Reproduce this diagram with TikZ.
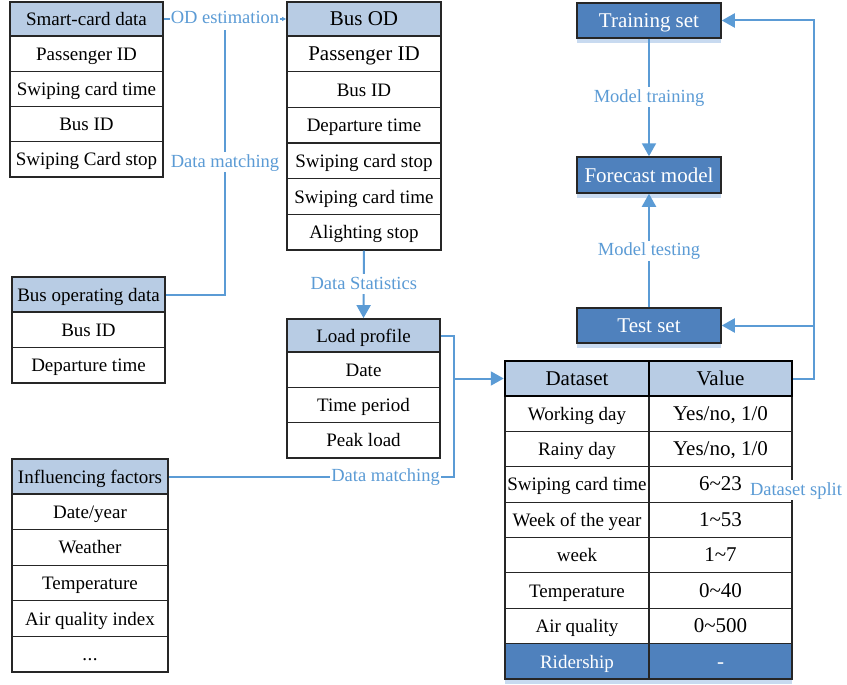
\documentclass[tikz,border=0pt]{standalone}
\usepackage{fontspec}
\setmainfont{Liberation Serif}
\usetikzlibrary{arrows.meta,shadows}
\definecolor{headblue}{RGB}{184,204,228}
\definecolor{darkblue}{RGB}{79,129,189}
\definecolor{linkblue}{RGB}{91,155,213}
\definecolor{shadeblue}{RGB}{200,218,240}
\tikzset{
  txt/.style={font=\fontsize{19}{22}\selectfont},
  bigtxt/.style={font=\fontsize{21}{24}\selectfont},
  cell/.style={draw=black!85, line width=1.2pt, fill=white, inner sep=0pt, text height=17pt, text depth=4pt, txt},
  head/.style={cell, fill=headblue, line width=1.8pt},
  darkbox/.style={draw=black!85, line width=1.5pt, fill=darkblue, text=white, inner sep=0pt, bigtxt,
    text height=18pt, text depth=4pt,
    minimum width=144pt, minimum height=35pt, general shadow={fill=shadeblue, shadow yshift=-5pt}},
  link/.style={linkblue, line width=2pt},
  arrowtip/.style={-{Triangle[length=13pt,width=14pt]}},
  lbl/.style={fill=white, text=linkblue, inner sep=1pt, text height=14pt, text depth=4pt, font=\fontsize{18.5}{21}\selectfont}
}
\begin{document}
\begin{tikzpicture}[x=1pt,y=-1pt]
    \useasboundingbox (0,0) rectangle (847,685);
    % smart-card data
    \foreach \t [count=\i] in {Passenger ID, Swiping card time, Bus ID, Swiping Card stop}
        \node[cell, minimum width=153pt, minimum height=35.25pt] (sc_\i) at (86.5,{36+35.25*(\i-0.5)}) {\t};
    \node[head, minimum width=153pt, minimum height=34pt] (sc_0) at (86.5,19) {Smart-card data};
    % bus OD
    \foreach \t [count=\i] in {{\fontsize{21}{24}\selectfont Passenger ID}, Bus ID, Departure time, Swiping card stop, Swiping card time, Alighting stop}
        \node[cell, minimum width=154pt, minimum height=35.67pt] (od_\i) at (364,{36+35.67*(\i-0.5)}) {\t};
    \node[head, bigtxt, minimum width=154pt, minimum height=34pt] (od_0) at (364,19) {Bus OD};
    % bus operating data
    \foreach \t [count=\i] in {Bus ID, Departure time}
        \node[cell, minimum width=153pt, minimum height=35.5pt] (bo_\i) at (88.5,{312+35.5*(\i-0.5)}) {\t};
    \node[head, minimum width=153pt, minimum height=35pt] (bo_0) at (88.5,294.5) {Bus operating data};
    % influencing factors
    \foreach \t [count=\i] in {Date/year, Weather, Temperature, Air quality index}
        \node[cell, minimum width=156pt, minimum height=35.6pt] (inf_\i) at (90,{494+35.6*(\i-0.5)}) {\t};
    \node[cell, minimum width=156pt, minimum height=35.6pt] (inf_5) at (90,654.2) {.\kern0.5pt.\kern0.5pt.};
    \node[head, minimum width=156pt, minimum height=35pt] (inf_0) at (90,476.5) {Influencing factors};
    % load profile
    \foreach \t [count=\i] in {Date, Time period, Peak load}
        \node[cell, minimum width=153pt, minimum height=35.3pt] (lp_\i) at (363.5,{352+35.3*(\i-0.5)}) {\t};
    \node[head, minimum width=153pt, minimum height=33pt] (lp_0) at (363.5,335.5) {Load profile};
    % dataset table
    \foreach \t [count=\i] in {Working day, Rainy day, Swiping card time, Week of the year, week, Temperature, Air quality}
        \node[cell, minimum width=144pt, minimum height=35.375pt] (ds_\i) at (577,{396+35.375*(\i-0.5)}) {\t};
    \foreach \t [count=\i] in {{Yes/no, 1/0}, {Yes/no, 1/0}, 6\textasciitilde 23, 1\textasciitilde 53, 1\textasciitilde 7, 0\textasciitilde 40, 0\textasciitilde 500}
        \node[cell, bigtxt, minimum width=143pt, minimum height=35.375pt] (dv_\i) at (720.5,{396+35.375*(\i-0.5)}) {\t};
    \node[darkbox, txt, minimum height=35.375pt] (ds_8) at (577,661.3) {Ridership};
    \node[darkbox, minimum width=143pt, minimum height=35.375pt] (dv_8) at (720.5,661.3) {-};
    \node[head, bigtxt, draw=black, line width=2.5pt, minimum width=144pt, minimum height=35pt] (ds_0) at (577,378.5) {Dataset};
    \node[head, bigtxt, draw=black, line width=2.5pt, minimum width=143pt, minimum height=35pt] (dv_0) at (720.5,378.5) {Value};
    \node[lbl] (split) at (796,490) {Dataset split};
    % model boxes
    \node[darkbox] (train) at (649,20.5) {Training set};
    \node[darkbox, minimum height=36pt] (fc) at (649,175) {Forecast model};
    \node[darkbox] (test) at (649,325.5) {Test set};
    % connectors
    \draw[link, -{Triangle[length=4pt,width=4pt]}] (sc_0.east) -- node[lbl] (odest) {OD estimation} (od_0.west);
    \draw[link] (bo_0.east) -| node[lbl, pos=0.75] {Data matching} (odest.south);
    \draw[link, arrowtip] (od_6.south) -- node[lbl] {Data Statistics} (lp_0.north);
    \coordinate (join) at (454,378.5);
    \draw[link] (lp_0.east) -| (join);
    \draw[link] (inf_0.east) -- node[lbl, pos=0.76] {Data matching} (inf_0.east -| join) -- (join);
    \draw[link, arrowtip] (join) -- (ds_0.west);
    \coordinate (fork) at (814,20.5);
    \draw[link, arrowtip] (dv_0.east) -| (fork) -- (train.east);
    \draw[link, arrowtip] (fork |- test.east) -- (test.east);
    \draw[link, arrowtip] (train.south) -- node[lbl] {Model training} (fc.north);
    \draw[link, arrowtip] (test.north) -- node[lbl] {Model testing} (fc.south);
\end{tikzpicture}
\end{document}
